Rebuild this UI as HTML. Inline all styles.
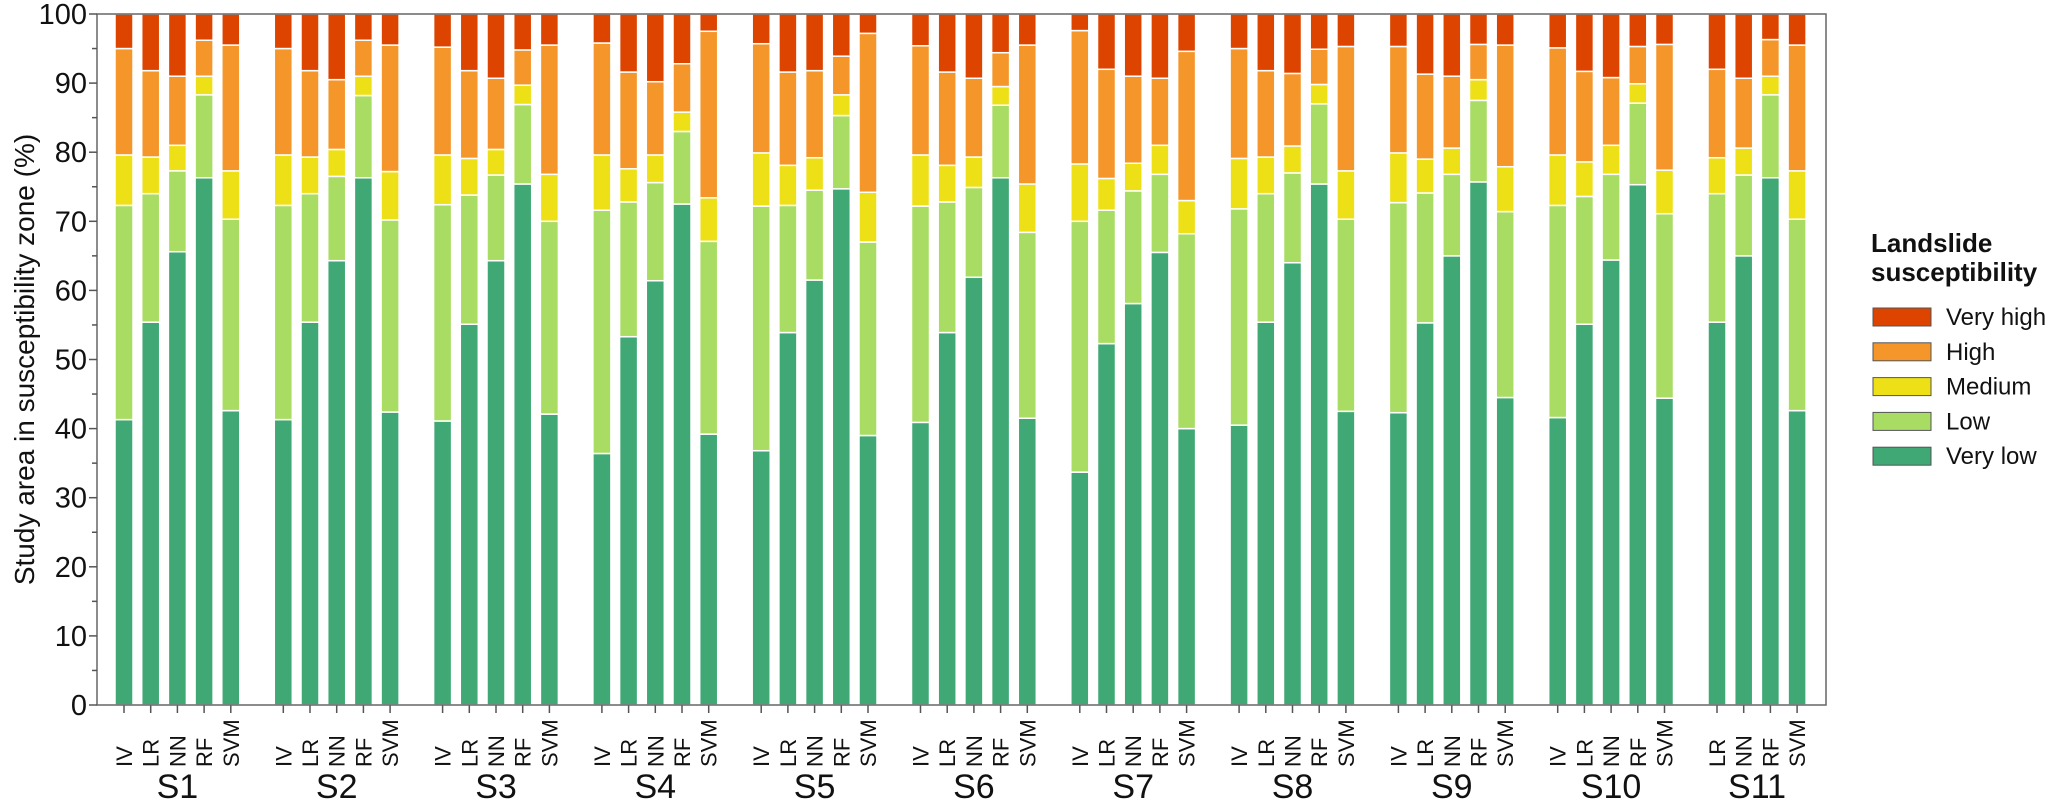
<!DOCTYPE html>
<html><head><meta charset="utf-8"><style>
body{margin:0;background:#fff}
svg{display:block;font-family:"Liberation Sans",Arial,sans-serif}
</style></head><body>
<svg id="chart" width="2067" height="811" viewBox="0 0 2067 811"></svg>
<script>
const groups = ["S1","S2","S3","S4","S5","S6","S7","S8","S9","S10","S11"];
const methods = [["IV","LR","NN","RF","SVM"],["IV","LR","NN","RF","SVM"],["IV","LR","NN","RF","SVM"],["IV","LR","NN","RF","SVM"],["IV","LR","NN","RF","SVM"],["IV","LR","NN","RF","SVM"],["IV","LR","NN","RF","SVM"],["IV","LR","NN","RF","SVM"],["IV","LR","NN","RF","SVM"],["IV","LR","NN","RF","SVM"],["LR","NN","RF","SVM"]];
// cumulative upper bounds (%) of each class per bar
const veryLowTop = [[41.3,55.4,65.6,76.3,42.6],[41.3,55.4,64.3,76.3,42.4],[41.1,55.1,64.3,75.4,42.1],[36.4,53.3,61.4,72.5,39.2],[36.8,53.9,61.5,74.7,39.0],[40.9,53.9,61.9,76.3,41.5],[33.7,52.3,58.1,65.5,40.0],[40.5,55.4,64.0,75.4,42.5],[42.3,55.3,65.0,75.7,44.5],[41.6,55.1,64.4,75.3,44.4],[55.4,65.0,76.3,42.6]];
const lowTop = [[72.3,74.0,77.3,88.3,70.3],[72.3,74.0,76.5,88.2,70.2],[72.4,73.8,76.7,86.9,70.0],[71.6,72.8,75.6,83.0,67.1],[72.2,72.3,74.5,85.3,67.0],[72.2,72.8,74.9,86.8,68.4],[70.0,71.6,74.4,76.8,68.2],[71.8,74.0,77.0,87.0,70.3],[72.7,74.1,76.8,87.5,71.4],[72.3,73.6,76.8,87.1,71.1],[74.0,76.7,88.3,70.3]];
const mediumTop = [[79.6,79.3,81.0,91.0,77.3],[79.6,79.3,80.4,91.0,77.2],[79.6,79.1,80.4,89.7,76.8],[79.6,77.6,79.6,85.8,73.4],[79.9,78.1,79.2,88.3,74.2],[79.6,78.1,79.3,89.5,75.4],[78.3,76.2,78.4,81.0,73.0],[79.1,79.3,80.9,89.8,77.3],[79.9,79.0,80.6,90.5,77.9],[79.6,78.6,81.0,89.9,77.4],[79.2,80.6,91.0,77.3]];
const highTop = [[95.0,91.8,91.0,96.2,95.5],[95.0,91.8,90.5,96.2,95.5],[95.2,91.8,90.7,94.8,95.5],[95.8,91.6,90.2,92.8,97.5],[95.7,91.6,91.8,93.9,97.2],[95.4,91.6,90.7,94.4,95.5],[97.6,92.0,91.0,90.7,94.6],[95.0,91.8,91.4,94.9,95.3],[95.3,91.3,91.0,95.6,95.5],[95.1,91.7,90.8,95.3,95.6],[92.0,90.7,96.3,95.5]];
const yTicks = [0,10,20,30,40,50,60,70,80,90,100];
const classNames = ["Very high","High","Medium","Low","Very low"];
const classColors = ["#dd4400","#f5962a","#eee017","#a8dc62","#3fa874"];

const NS="http://www.w3.org/2000/svg";
const svg=document.getElementById('chart');
const L=97,R=1826,T=14,B=705;
const y=v=>B-(B-T)*v/100;
const barW=18,pitch=26.7,gPitch=159.3,x0=115;
const xBar=(g,i)=>x0+g*gPitch+i*pitch;
function mk(tag,at){const e=document.createElementNS(NS,tag);for(const k in at)e.setAttribute(k,at[k]);svg.appendChild(e);return e;}

// bars
groups.forEach((g,gi)=>{
  methods[gi].forEach((m,i)=>{
    const bounds=[0,veryLowTop[gi][i],lowTop[gi][i],mediumTop[gi][i],highTop[gi][i],100];
    const cols=["#3fa874","#a8dc62","#eee017","#f5962a","#dd4400"];
    const nm=["very-low","low","medium","high","very-high"];
    for(let s=0;s<5;s++){
      const r=mk('rect',{x:xBar(gi,i),y:y(bounds[s+1]),width:barW,height:y(bounds[s])-y(bounds[s+1]),fill:cols[s],stroke:'#fff','stroke-width':1.5});
      
      
    }
    const cx=xBar(gi,i)+barW/2;
    const t=mk('line',{x1:cx,x2:cx,y1:B,y2:B+8,stroke:'#555','stroke-width':1.5});
    
    
    const lb=mk('text',{x:0,y:0,transform:`translate(${cx+8},${B+62}) rotate(-90)`,'font-size':22,fill:'#111'});
    lb.textContent=m;
    
    
  });
  const n=methods[gi].length;
  const gc=(xBar(gi,0)+xBar(gi,n-1)+barW)/2;
  const gl=mk('text',{x:gc,y:798,'font-size':34,'text-anchor':'middle',fill:'#111'});
  gl.textContent=g;
  
  
});

// frame
const fr=mk('rect',{x:L,y:T,width:R-L,height:B-T,fill:'none',stroke:'#666','stroke-width':1.5});



// y ticks
for(let v=0;v<=100;v+=5){
  const tk=mk('line',{x1:L-(v%10?5:8),x2:L,y1:y(v),y2:y(v),stroke:'#555','stroke-width':1.5});
  
  
}
yTicks.forEach(v=>{
  const t=mk('text',{x:L-10,y:y(v)+10,'font-size':29,'text-anchor':'end',fill:'#111'});
  t.textContent=v;
  
  
});
const yt=mk('text',{x:0,y:0,transform:`translate(34,${(T+B)/2}) rotate(-90)`,'font-size':28,'text-anchor':'middle',fill:'#111'});
yt.textContent='Study area in susceptibility zone (%)';



// legend
const lt1=mk('text',{x:1871,y:252,'font-size':26,'font-weight':'bold',fill:'#111'});
lt1.textContent='Landslide';


const lt2=mk('text',{x:1871,y:281,'font-size':26,'font-weight':'bold',fill:'#111'});
lt2.textContent='susceptibility';


classNames.forEach((c,i)=>{
  const yy=308+i*34.8;
  const b=mk('rect',{x:1873,y:yy,width:58,height:18,fill:classColors[i],stroke:'#555','stroke-width':1});
  
  
  const t=mk('text',{x:1946,y:yy+17,'font-size':24,fill:'#111'});
  t.textContent=c;
  
  
});
</script>
</body></html>
